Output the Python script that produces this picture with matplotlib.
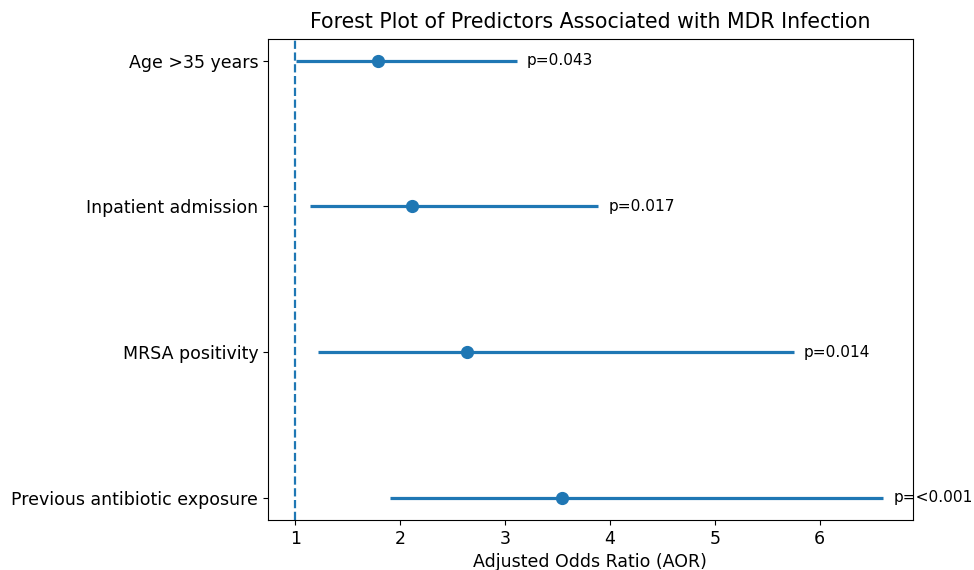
import matplotlib
matplotlib.use('agg')
import matplotlib.pyplot as plt

# Predictors, adjusted odds ratios and 95% CI
predictors = ['Age >35 years', 'Inpatient admission', 'MRSA positivity',
              'Previous antibiotic exposure']
aor = [1.79, 2.11, 2.64, 3.54]
ci_lower = [1.01, 1.14, 1.22, 1.90]
ci_upper = [3.11, 3.89, 5.75, 6.60]
p_values = ['p=0.043', 'p=0.017', 'p=0.014', 'p=<0.001']

fig, ax = plt.subplots(figsize=(9.74, 5.7), dpi=100)
fig.subplots_adjust(left=0.275, right=0.937, top=0.932, bottom=0.088)

y_pos = list(range(len(predictors)))

# CI lines and point estimates
ax.hlines(y_pos, ci_lower, ci_upper, color='C0', linewidth=2.3)
ax.plot(aor, y_pos, 'o', color='C0', markersize=8.5)

# Reference line at AOR = 1
ax.axvline(1, color='C0', linestyle='--', linewidth=1.6)

# p-value labels next to each CI
for y, upper, p in zip(y_pos, ci_upper, p_values):
    ax.text(upper + 0.1, y, p, va='center', fontsize=11.1)

ax.set_yticks(y_pos)
ax.set_yticklabels(predictors)
ax.invert_yaxis()
ax.set_xlim(0.74, 6.885)

ax.tick_params(labelsize=12.5)
ax.set_xlabel('Adjusted Odds Ratio (AOR)', fontsize=12.5)
ax.set_title('Forest Plot of Predictors Associated with MDR Infection',
             fontsize=14.8, pad=8)

plt.savefig('out.png')
